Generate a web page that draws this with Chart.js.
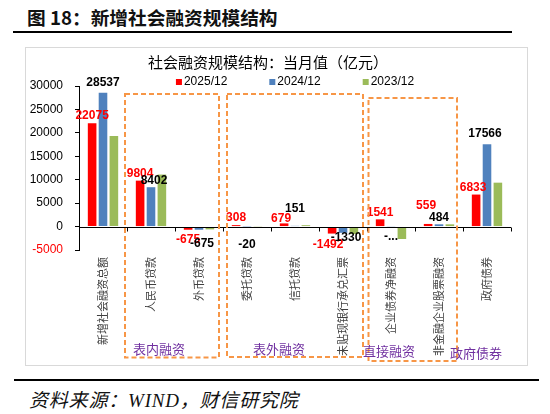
<!DOCTYPE html>
<html>
<head>
<meta charset="utf-8">
<script src="https://cdn.jsdelivr.net/npm/chart.js@4.4.1/dist/chart.umd.min.js"></script>
<style>
  body { margin: 0; width: 550px; height: 414px; background: #fff; position: relative; overflow: hidden; }
  #figTitle { position: absolute; left: 27px; top: 3px; font: bold 18.7px "Noto Sans CJK SC", sans-serif; color: #111; white-space: nowrap; }
  .rule { position: absolute; height: 2px; background: #000; }
  #box { position: absolute; left: 25px; top: 47px; width: 503px; height: 319px; border: 1px solid #d9d9d9; box-sizing: border-box; }
  #wrap { position: absolute; left: 25px; top: 47px; width: 503px; height: 319px; }
  #source { position: absolute; left: 29px; top: 385px; font: italic 19px "Liberation Serif", "Noto Sans CJK SC", serif; letter-spacing: 0.8px; color: #111; white-space: nowrap; }
</style>
</head>
<body>
<div id="figTitle">图 18：新增社会融资规模结构</div>
<div class="rule" style="left:13px; top:31px; width:499px;"></div>
<div id="box"></div>
<div id="wrap"><canvas id="chart"></canvas></div>
<div class="rule" style="left:14px; top:379px; width:525px;"></div>
<div id="source">资料来源：WIND，财信研究院</div>

<script>
var categories = ["新增社会融资总额", "人民币贷款", "外币贷款", "委托贷款", "信托贷款",
                  "未贴现银行承兑汇票", "企业债券净融资", "非金融企业股票融资", "政府债券"];
var seriesNames = ["2025/12", "2024/12", "2023/12"];
var values2025 = [22075, 9804, -675, 308, 679, -1492, 1541, 559, 6833];
var values2024 = [28537, 8402, -675, -20, 151, -1330, -60, 484, 17566];
var values2023 = [19326, 11100, -600, -50, 290, -1600, -2650, 480, 9370];
// labels as printed on the chart (one got cut short in the original)
var text2025 = ["22075", "9804", "-675", "308", "679", "-1492", "1541", "559", "6833"];
var text2024 = ["28537", "8402", "-675", "-20", "151", "-1330", "-...", "484", "17566"];
var yTicks = [30000, 25000, 20000, 15000, 10000, 5000, 0, -5000];
var groupNames = ["表内融资", "表外融资", "直接融资", "政府债券"];

var colors = ["#ff0000", "#4f81bd", "#9bbb59"];

// legend drawn over the plot, like the excel original
var legendPlugin = {
    id: "overlayLegend",
    afterDraw: function(chart) {
        var ctx = chart.ctx, area = chart.chartArea;
        ctx.save();
        ctx.font = "12px 'Liberation Sans', sans-serif";
        ctx.textBaseline = "middle";
        var itemW = [], total = 0, gap = 42;
        chart.data.datasets.forEach(function(ds) {
            var w = 8 + ctx.measureText(ds.label).width;
            itemW.push(w); total += w;
        });
        total += gap * (itemW.length - 1);
        var x = (area.left + area.right) / 2 - total / 2, y = 35;
        chart.data.datasets.forEach(function(ds, i) {
            ctx.fillStyle = ds.backgroundColor;
            ctx.fillRect(x, y - 3, 6, 6);
            ctx.fillStyle = "#000";
            ctx.fillText(ds.label, x + 8, y);
            x += itemW[i] + gap;
        });
        ctx.restore();
    }
};

// zero line with category tick marks
var zeroAxisPlugin = {
    id: "zeroAxis",
    afterDatasetsDraw: function(chart) {
        var ctx = chart.ctx, area = chart.chartArea;
        var y0 = Math.round(chart.scales.y.getPixelForValue(0)) + 0.5;
        var n = chart.data.labels.length, step = (area.right - area.left) / n;
        ctx.save();
        ctx.strokeStyle = "#000";
        ctx.lineWidth = 1;
        ctx.beginPath();
        ctx.moveTo(area.left, y0);
        ctx.lineTo(area.right, y0);
        for (var i = 0; i <= n; i++) {
            var x = Math.round(area.left + i * step) + 0.5;
            ctx.moveTo(x, y0);
            ctx.lineTo(x, y0 + 4);
        }
        ctx.stroke();
        ctx.restore();
    }
};

// excel shuffled a few labels to dodge each other; gap = distance from bar end to label centre
var labelGap = {"0-5": 11, "0-7": 18, "0-4": 4.5,
                "1-0": 10, "1-2": 14, "1-3": 18, "1-4": 17, "1-5": 4.5, "1-8": 11};
var labelShift = {"1-1": 3, "1-2": 3, "0-5": -4, "1-5": 3, "0-8": -3, "1-8": -2, "0-7": -2, "0-4": -3};

var valueLabelPlugin = {
    id: "valueLabels",
    afterDatasetsDraw: function(chart) {
        var ctx = chart.ctx;
        var texts = [text2025, text2024];
        var inks = ["#ff0000", "#000000"];
        ctx.save();
        ctx.font = "bold 12px 'Liberation Sans', sans-serif";
        ctx.textAlign = "center";
        ctx.textBaseline = "middle";
        texts.forEach(function(list, d) {
            var meta = chart.getDatasetMeta(d);
            meta.data.forEach(function(bar, i) {
                var v = chart.data.datasets[d].data[i];
                var key = d + "-" + i;
                var gap = labelGap[key] !== undefined ? labelGap[key] : (v >= 0 ? 7 : 9.5);
                var dx = labelShift[key] || 0;
                ctx.fillStyle = inks[d];
                ctx.fillText(list[i], bar.x + dx, v >= 0 ? bar.y - gap : bar.y + gap);
            });
        });
        ctx.restore();
    }
};

var groupBoxPlugin = {
    id: "groupBoxes",
    afterDraw: function(chart) {
        var ctx = chart.ctx, area = chart.chartArea;
        var step = (area.right - area.left) / chart.data.labels.length;
        var edge = function(i) { return area.left + i * step; };
        var boxes = [
            {l: edge(1) - 2, r: edge(3) - 4, t: 47, b: 310.5},
            {l: edge(3) + 4, r: edge(6) - 4, t: 47, b: 310},
            {l: edge(6) + 1.5, r: edge(8) - 6, t: 51, b: 314}
        ];
        var namePos = [[134, 302], [254, 302], [364, 304], [451, 306]];
        ctx.save();
        ctx.strokeStyle = "#f79646";
        ctx.lineWidth = 2;
        ctx.setLineDash([5, 3]);
        boxes.forEach(function(b) { ctx.strokeRect(b.l, b.t, b.r - b.l, b.b - b.t); });
        ctx.setLineDash([]);
        ctx.font = "13px 'Noto Sans CJK SC', sans-serif";
        ctx.fillStyle = "#7030a0";
        ctx.textAlign = "center";
        ctx.textBaseline = "middle";
        groupNames.forEach(function(name, i) { ctx.fillText(name, namePos[i][0], namePos[i][1]); });
        ctx.restore();
    }
};

new Chart(document.getElementById("chart"), {
    type: "bar",
    data: {
        labels: categories,
        datasets: [
            {label: seriesNames[0], data: values2025, backgroundColor: colors[0]},
            {label: seriesNames[1], data: values2024, backgroundColor: colors[1]},
            {label: seriesNames[2], data: values2023, backgroundColor: colors[2]}
        ]
    },
    options: {
        responsive: true,
        maintainAspectRatio: false,
        animation: false,
        categoryPercentage: 0.68,
        barPercentage: 0.79,
        layout: {padding: {left: 0, right: 17, top: 0, bottom: 0}},
        plugins: {
            legend: {display: false},
            tooltip: {enabled: false},
            title: {
                display: true,
                text: "社会融资规模结构：当月值（亿元）",
                color: "#000",
                font: {family: "'Noto Sans CJK SC', sans-serif", size: 15, weight: "normal"},
                padding: {top: 6, bottom: 15}
            }
        },
        scales: {
            x: {
                grid: {display: false, drawTicks: false},
                border: {display: false},
                ticks: {
                    autoSkip: false, maxRotation: 90, minRotation: 90, padding: 7,
                    color: "#404040",
                    font: {family: "'Noto Sans CJK SC', sans-serif", size: 11}
                },
                afterFit: function(scale) { scale.height = 116; }
            },
            y: {
                min: yTicks[yTicks.length - 1],
                max: yTicks[0],
                afterBuildTicks: function(scale) {
                    scale.ticks = yTicks.map(function(v) { return {value: v}; });
                },
                grid: {drawOnChartArea: false, tickLength: 4, color: "#000"},
                border: {color: "#000"},
                ticks: {
                    padding: 12,
                    callback: function(v) { return String(v); },
                    color: function(c) { return c.tick.value < 0 ? "#ff0000" : "#000"; },
                    font: {family: "'Liberation Sans', sans-serif", size: 12}
                },
                afterFit: function(scale) { scale.width = 54; }
            }
        }
    },
    plugins: [legendPlugin, zeroAxisPlugin, valueLabelPlugin, groupBoxPlugin]
});
</script>
</body>
</html>
